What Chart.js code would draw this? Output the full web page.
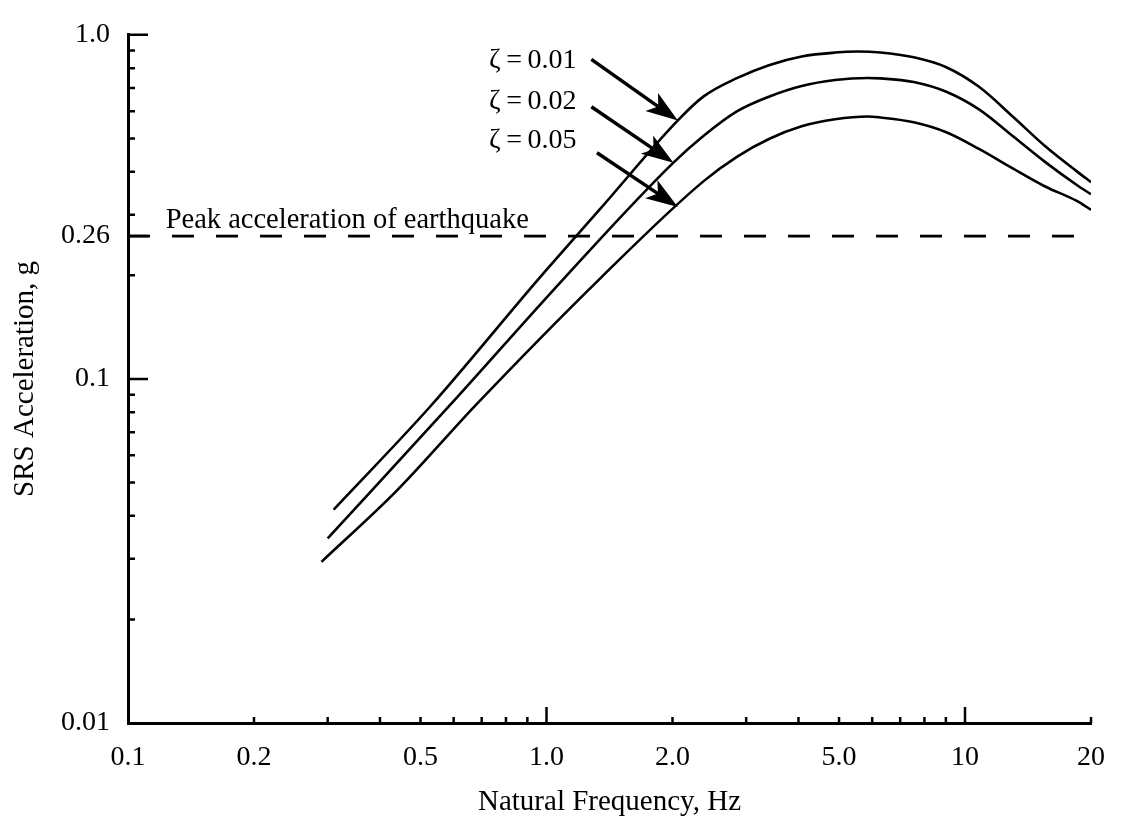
<!DOCTYPE html>
<html>
<head>
<meta charset="utf-8">
<script src="https://cdn.jsdelivr.net/npm/chart.js@4.4.1/dist/chart.umd.min.js"></script>
<style>
  html, body { margin: 0; padding: 0; background: #ffffff; }
  #wrap { width: 1123px; height: 820px; }
</style>
</head>
<body>
<div id="wrap"><canvas id="c" width="1123" height="820"></canvas></div>
<script>
// ---------------- data ----------------
const freqTickValues = [0.1, 0.2, 0.5, 1, 2, 5, 10, 20];
const freqTickLabels = ['0.1', '0.2', '0.5', '1.0', '2.0', '5.0', '10', '20'];
const accTickValues = [0.01, 0.1, 0.26, 1];
const accTickLabels = ['0.01', '0.1', '0.26', '1.0'];

const freqMinorMarks = [0.2, 0.3, 0.4, 0.5, 0.6, 0.7, 0.8, 0.9, 2, 3, 4, 5, 6, 7, 8, 9, 20];
const freqMajorMarks = [1, 10];
const accMinorMarks = [0.9, 0.8, 0.7, 0.6, 0.5, 0.4, 0.3, 0.2,
                       0.09, 0.08, 0.07, 0.06, 0.05, 0.04, 0.03, 0.02];
const accMajorMarks = [1, 0.26, 0.1];

const freqZeta01 = [0.31, 0.53, 0.96, 1.35, 2.06, 2.37, 2.85, 3.40, 4.07, 4.89, 5.54, 6.28, 7.54, 9.02, 10.8, 13.0, 15.5, 18.5, 20];
const accZeta01  = [0.0417, 0.0837, 0.196, 0.314, 0.564, 0.661, 0.748, 0.816, 0.865, 0.888, 0.894, 0.888, 0.860, 0.805, 0.706, 0.579, 0.476, 0.401, 0.373];

const freqZeta02 = [0.30, 0.59, 1.11, 2.01, 2.37, 2.85, 3.40, 4.07, 4.89, 5.85, 6.28, 7.54, 9.02, 10.8, 13.0, 15.5, 18.5, 20];
const accZeta02  = [0.0344, 0.0843, 0.198, 0.425, 0.508, 0.599, 0.661, 0.710, 0.739, 0.749, 0.747, 0.729, 0.683, 0.607, 0.508, 0.428, 0.366, 0.344];

const freqZeta05 = [0.29, 0.44, 0.68, 1.35, 2.37, 2.85, 3.40, 4.07, 4.89, 5.85, 6.28, 7.54, 9.02, 10.8, 13.0, 15.5, 18.5, 20];
const accZeta05  = [0.0294, 0.0475, 0.0843, 0.197, 0.375, 0.442, 0.498, 0.542, 0.568, 0.579, 0.575, 0.557, 0.521, 0.466, 0.409, 0.363, 0.329, 0.310];

const peakFreq = [0.1, 20];
const peakAcc  = [0.26, 0.26];
const peakLabel = 'Peak acceleration of earthquake';
const peakLabelFreq = 0.123;
const peakLabelAcc = 0.274;

const zetaLabels   = ['\u03B6\u2009=\u20090.01', '\u03B6\u2009=\u20090.02', '\u03B6\u2009=\u20090.05'];
const zetaLabelFreq = [1.18, 1.18, 1.18];
const zetaLabelAcc  = [0.843, 0.639, 0.491];
const arrowTailFreq = [1.28, 1.28, 1.32];
const arrowTailAcc  = [0.848, 0.618, 0.454];
const arrowTipFreq  = [2.06, 2.01, 2.06];
const arrowTipAcc   = [0.564, 0.425, 0.316];

const xTitle = 'Natural Frequency, Hz';
const yTitle = 'SRS Acceleration, g';

// ---------------- helpers ----------------
const FONT = '"Liberation Serif", "Times New Roman", Times, serif';
const toPts = (xs, ys) => xs.map((v, i) => ({ x: v, y: ys[i] }));
const labelFor = (vals, labels, v) => {
  const i = vals.findIndex(t => Math.abs(t - v) / t < 1e-6);
  return i >= 0 ? labels[i] : '';
};

const curveStyle = {
  borderColor: '#000', borderWidth: 2.6, pointRadius: 0, fill: false,
  cubicInterpolationMode: 'monotone'
};

const inwardTicks = {
  id: 'inwardTicks',
  afterDraw(chart) {
    const { ctx, chartArea: a, scales: { x, y } } = chart;
    ctx.save();
    ctx.strokeStyle = '#000';
    ctx.lineWidth = 2.5;
    ctx.beginPath();
    freqMinorMarks.forEach(v => { const p = x.getPixelForValue(v); ctx.moveTo(p, a.bottom); ctx.lineTo(p, a.bottom - 6); });
    freqMajorMarks.forEach(v => { const p = x.getPixelForValue(v); ctx.moveTo(p, a.bottom); ctx.lineTo(p, a.bottom - 16); });
    accMinorMarks.forEach(v => { const p = y.getPixelForValue(v); ctx.moveTo(a.left, p); ctx.lineTo(a.left + 7, p); });
    accMajorMarks.forEach(v => { const p = y.getPixelForValue(v); ctx.moveTo(a.left, p); ctx.lineTo(a.left + 20, p); });
    ctx.stroke();
    ctx.restore();
  }
};

const annotations = {
  id: 'annotations',
  afterDatasetsDraw(chart) {
    const { ctx, scales: { x, y } } = chart;
    ctx.save();
    ctx.fillStyle = '#000';
    ctx.strokeStyle = '#000';
    // peak label
    ctx.font = '28.5px ' + FONT;
    ctx.textAlign = 'left';
    ctx.textBaseline = 'alphabetic';
    ctx.fillText(peakLabel, x.getPixelForValue(peakLabelFreq), y.getPixelForValue(peakLabelAcc));
    // damping labels + arrows
    ctx.font = '28px ' + FONT;
    ctx.textAlign = 'right';
    ctx.textBaseline = 'middle';
    zetaLabels.forEach((t, i) => {
      ctx.fillText(t, x.getPixelForValue(zetaLabelFreq[i]), y.getPixelForValue(zetaLabelAcc[i]));
      const x0 = x.getPixelForValue(arrowTailFreq[i]), y0 = y.getPixelForValue(arrowTailAcc[i]);
      const x1 = x.getPixelForValue(arrowTipFreq[i]),  y1 = y.getPixelForValue(arrowTipAcc[i]);
      const dx = x1 - x0, dy = y1 - y0, L = Math.hypot(dx, dy);
      const ux = dx / L, uy = dy / L, px = -uy, py = ux;
      const head = 32, half = 11, notch = 24;
      ctx.lineWidth = 3.5;
      ctx.beginPath();
      ctx.moveTo(x0, y0);
      ctx.lineTo(x1 - ux * notch, y1 - uy * notch);
      ctx.stroke();
      ctx.beginPath();
      ctx.moveTo(x1, y1);
      ctx.lineTo(x1 - ux * head + px * half, y1 - uy * head + py * half);
      ctx.lineTo(x1 - ux * notch, y1 - uy * notch);
      ctx.lineTo(x1 - ux * head - px * half, y1 - uy * head - py * half);
      ctx.closePath();
      ctx.fill();
    });
    ctx.restore();
  }
};

new Chart(document.getElementById('c'), {
  type: 'line',
  data: {
    datasets: [
      Object.assign({ label: 'ζ = 0.01', data: toPts(freqZeta01, accZeta01) }, curveStyle),
      Object.assign({ label: 'ζ = 0.02', data: toPts(freqZeta02, accZeta02) }, curveStyle),
      Object.assign({ label: 'ζ = 0.05', data: toPts(freqZeta05, accZeta05) }, curveStyle),
      { label: peakLabel, data: toPts(peakFreq, peakAcc), borderColor: '#000', borderWidth: 2.8,
        borderDash: [22, 22], pointRadius: 0, fill: false, tension: 0 }
    ]
  },
  options: {
    responsive: false,
    animation: false,
    devicePixelRatio: 1,
    layout: { padding: { top: 24, right: 16, left: 0, bottom: 0 } },
    plugins: { legend: { display: false }, tooltip: { enabled: false }, title: { display: false } },
    scales: {
      x: {
        type: 'logarithmic', min: 0.1, max: 20,
        afterBuildTicks: s => { s.ticks = freqTickValues.map(v => ({ value: v })); },
        afterFit: s => { s.height = 97; },
        grid: { display: false, drawTicks: false },
        border: { display: true, color: '#000', width: 3 },
        ticks: {
          autoSkip: false, maxRotation: 0, padding: 18, color: '#000',
          font: { family: FONT, size: 28 },
          callback: v => labelFor(freqTickValues, freqTickLabels, v)
        },
        title: { display: true, text: xTitle, color: '#000', font: { family: FONT, size: 29 }, padding: { top: 0, bottom: 0 } }
      },
      y: {
        type: 'logarithmic', min: 0.01, max: 1,
        afterBuildTicks: s => { s.ticks = accTickValues.map(v => ({ value: v })); },
        afterFit: s => { s.width = 128; },
        grid: { display: false, drawTicks: false },
        border: { display: true, color: '#000', width: 3 },
        ticks: {
          autoSkip: false, padding: 18, color: '#000',
          font: { family: FONT, size: 28 },
          callback: v => labelFor(accTickValues, accTickLabels, v)
        },
        title: { display: true, text: yTitle, color: '#000', font: { family: FONT, size: 29 }, padding: { top: 8, bottom: 0 } }
      }
    }
  },
  plugins: [inwardTicks, annotations]
});
</script>
</body>
</html>
